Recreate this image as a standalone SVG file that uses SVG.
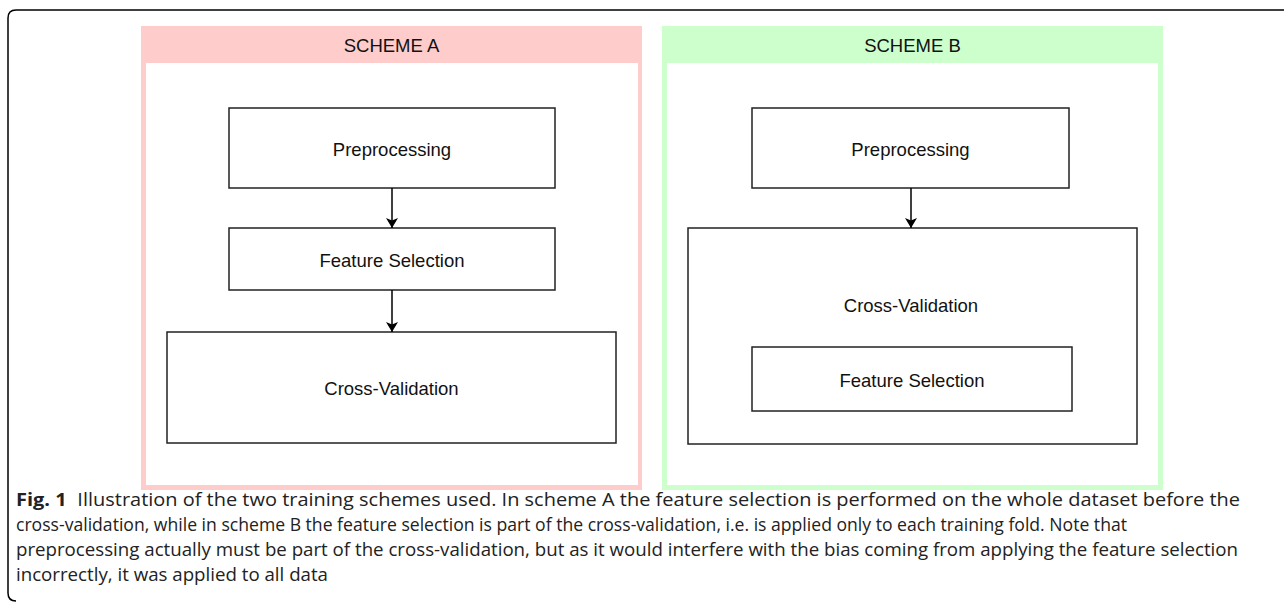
<svg xmlns="http://www.w3.org/2000/svg" width="1284" height="607" viewBox="0 0 1284 607">
<defs>
<marker id="arr" viewBox="0 0 10 12" refX="10" refY="6" markerWidth="10" markerHeight="12" markerUnits="userSpaceOnUse" orient="auto">
<path d="M0,0 L10,6 L0,12 L2.5,6 Z" fill="#000"/>
</marker>
<style>
.frame{fill:none;stroke:#000;stroke-width:1.5}
.node{fill:#fff;stroke:#222;stroke-width:1.5}
.lbl{font-family:"Liberation Sans",Arial,sans-serif;font-size:18.5px;fill:#111;text-anchor:middle;dominant-baseline:central}
.hdr{font-family:"Liberation Sans",Arial,sans-serif;font-size:18.5px;fill:#111;text-anchor:middle;dominant-baseline:central}
.edge{stroke:#000;stroke-width:1.5;fill:none;marker-end:url(#arr)}
.cap{font-family:"Open Sans","Noto Sans",sans-serif;font-size:18px;fill:#222}
.capb{font-weight:bold}
</style>
</defs>
<rect width="1284" height="607" fill="#fff"/>
<path class="frame" d="M16,601 Q8,601 8,593 L8,18 Q8,10 16,10 L1284,10"/>

<g id="schemeA">
<rect x="141" y="26" width="501" height="464" fill="#ffcccc"/>
<rect x="146" y="63" width="492" height="422" fill="#fff"/>
<text class="hdr" x="391.5" y="45">SCHEME A</text>
</g>
<g id="schemeB">
<rect x="662" y="26" width="501" height="464" fill="#ccffcc"/>
<rect x="667" y="63" width="491" height="422" fill="#fff"/>
<text class="hdr" x="912.5" y="45">SCHEME B</text>
</g>

<g id="a-pre">
<rect class="node" x="229" y="108" width="326" height="80"/>
<text class="lbl" x="392" y="149">Preprocessing</text>
</g>
<g id="a-fs">
<rect class="node" x="229" y="228" width="326" height="62"/>
<text class="lbl" x="392" y="260">Feature Selection</text>
</g>
<g id="a-cv">
<rect class="node" x="167" y="332" width="449" height="111"/>
<text class="lbl" x="391.5" y="388">Cross-Validation</text>
</g>

<g id="b-pre">
<rect class="node" x="752" y="108" width="317" height="80"/>
<text class="lbl" x="910.5" y="149">Preprocessing</text>
</g>
<g id="b-cv">
<rect class="node" x="688" y="228" width="449" height="216"/>
<text class="lbl" x="911" y="305">Cross-Validation</text>
</g>
<g id="b-fs">
<rect class="node" x="752" y="347" width="320" height="64"/>
<text class="lbl" x="912" y="380">Feature Selection</text>
</g>

<g id="connectors">
<line class="edge" x1="392" y1="188" x2="392" y2="228"/>
<line class="edge" x1="392" y1="290" x2="392" y2="332"/>
<line class="edge" x1="911" y1="188" x2="911" y2="228"/>
</g>

<g id="caption">
<text class="cap" x="16" y="506" textLength="1224" lengthAdjust="spacingAndGlyphs"><tspan class="capb">Fig. 1</tspan><tspan dx="5"> Illustration of the two training schemes used. In scheme A the feature selection is performed on the whole dataset before the</tspan></text>
<text class="cap" x="16" y="531" textLength="1111" lengthAdjust="spacingAndGlyphs">cross-validation, while in scheme B the feature selection is part of the cross-validation, i.e. is applied only to each training fold. Note that</text>
<text class="cap" x="16" y="556" textLength="1222" lengthAdjust="spacingAndGlyphs">preprocessing actually must be part of the cross-validation, but as it would interfere with the bias coming from applying the feature selection</text>
<text class="cap" x="16" y="581" textLength="312" lengthAdjust="spacingAndGlyphs">incorrectly, it was applied to all data</text>
</g>
</svg>
